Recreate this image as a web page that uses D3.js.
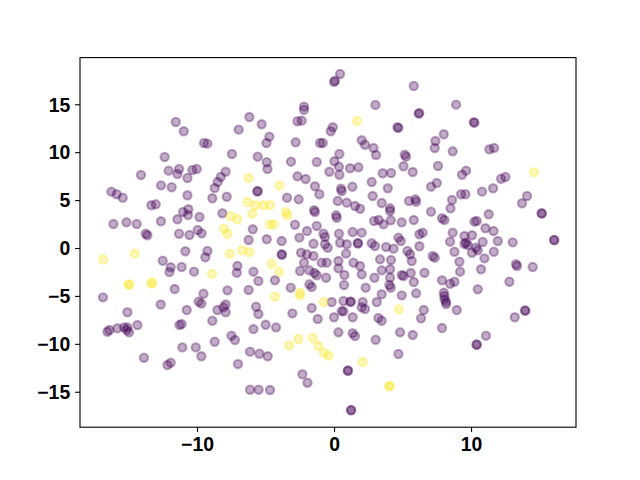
<!DOCTYPE html>
<html>
<head>
<meta charset="utf-8">
<script src="https://cdn.jsdelivr.net/npm/d3@7"></script>
<style>
  body { margin: 0; background: #fff; }
  svg { display: block; }
  .tick text { font-family: "Liberation Sans", Arial, sans-serif; font-weight: bold; }
</style>
</head>
<body>
<svg id="chart" width="640" height="480"></svg>
<script>
// ---- data ----
const xTicks = [-10, 0, 10];
const yTicks = [-15, -10, -5, 0, 5, 10, 15];
const xDomain = [-18.54, 17.66];
const yDomain = [-18.7, 19.87];

const purplePoints = [
[-11.55,13.15],[-10.97,12.18],[-9.49,10.96],[-9.24,10.89],[-12.36,9.50],[-7.45,9.81],[-6.96,12.35],[-6.18,13.67],
[-14.09,7.62],[-12.07,8.07],[-11.31,8.25],[-11.43,7.72],[-10.34,8.14],[-10.02,8.25],[-10.70,7.31],[-7.91,7.96],
[-8.27,7.41],[-8.49,6.89],[-8.71,6.26],[0.44,18.16],[0.07,17.46],[0.00,17.33],[5.82,16.91],[-5.28,12.91],
[-2.19,14.75],[-2.19,14.41],[-2.67,13.23],[-2.36,13.29],[3.02,14.93],[4.63,12.60],[4.70,12.53],[-0.09,12.60],
[-0.24,12.18],[-4.72,11.62],[-4.93,10.96],[-2.80,11.03],[-1.02,10.96],[-0.82,10.96],[2.02,11.24],[2.26,10.78],
[2.88,10.44],[3.07,9.71],[-5.57,9.53],[-4.91,8.95],[-4.86,8.25],[-3.14,9.01],[-1.26,8.98],[0.39,9.81],
[0.03,9.05],[0.36,8.49],[-0.34,7.96],[0.39,7.65],[1.17,8.32],[1.78,8.42],[5.16,9.74],[5.26,9.53],
[5.07,8.53],[5.74,7.93],[3.55,7.80],[4.16,7.83],[-2.67,7.48],[-2.07,7.20],[2.75,6.89],[6.18,14.02],
[6.22,14.08],[8.91,14.96],[10.20,13.12],[10.25,13.08],[8.01,11.87],[7.40,11.17],[7.35,10.44],[8.66,10.09],
[11.34,10.30],[11.68,10.44],[7.59,8.56],[9.64,8.07],[9.34,7.65],[12.19,7.23],[12.51,7.41],[7.50,6.78],
[-16.25,5.88],[-15.86,5.61],[-15.42,5.25],[-12.63,6.54],[-11.85,6.34],[-10.70,5.50],[-13.33,4.46],[-13.01,4.56],
[-8.88,5.19],[-7.83,5.35],[-16.10,2.51],[-15.15,2.68],[-14.40,2.51],[-12.63,2.79],[-13.74,1.49],[-13.62,1.33],
[-11.43,3.00],[-11.02,3.76],[-10.63,4.04],[-10.66,3.44],[-9.82,3.24],[-8.15,3.62],[-11.31,1.49],[-10.55,1.36],
[-9.95,1.88],[-9.66,1.53],[-10.85,-0.34],[-9.24,-0.31],[-9.39,-0.97],[-12.50,-1.33],[-11.92,-2.01],[-12.01,-2.51],
[-11.12,-1.98],[-10.22,-2.47],[-7.05,-1.88],[-7.10,-2.58],[-11.63,-4.28],[-9.53,-4.77],[-7.78,-4.42],[-16.86,-5.15],
[-12.65,-5.90],[-9.88,-5.60],[-9.68,-5.80],[-6.23,0.84],[-6.23,-4.38],[-5.57,5.95],[-5.60,5.90],[-3.43,5.25],
[-2.58,5.08],[-1.39,6.44],[-1.07,5.61],[0.51,6.19],[0.56,5.95],[1.34,6.40],[3.92,6.23],[2.82,5.43],
[0.27,4.91],[0.93,4.73],[1.53,4.38],[1.90,4.10],[3.48,4.70],[4.09,4.14],[4.09,3.86],[5.47,4.91],
[-1.46,3.94],[-1.39,3.76],[0.15,3.41],[0.20,3.16],[2.92,2.82],[3.26,2.92],[3.61,2.47],[4.14,2.89],
[4.94,2.68],[-2.85,2.43],[-1.26,2.30],[-5.93,1.95],[-1.97,1.77],[-0.77,1.49],[-0.66,1.15],[0.36,1.49],
[1.36,1.67],[2.02,1.60],[4.70,1.08],[4.87,0.73],[-4.91,0.91],[-3.82,0.73],[-2.53,1.08],[-1.50,0.45],
[-0.66,0.39],[-0.46,0.03],[0.44,0.55],[0.93,0.39],[0.88,-0.59],[1.73,0.49],[1.75,0.50],[2.75,0.49],
[2.99,0.21],[3.80,0.10],[4.34,-0.07],[5.36,-0.31],[5.55,-0.66],[-3.82,-0.66],[-3.80,-0.70],[-2.41,-0.49],
[-1.99,-0.66],[-1.50,-0.84],[-0.90,-1.53],[-0.53,-1.53],[0.32,-1.36],[0.32,-2.12],[1.42,-1.53],[1.90,-1.88],
[3.36,-1.18],[4.16,-1.25],[5.67,-1.36],[-2.19,-1.53],[-5.88,-2.47],[-2.48,-2.40],[-1.80,-2.33],[-1.43,-2.61],
[-1.26,-2.85],[-0.58,-3.10],[0.76,-2.82],[2.02,-2.75],[3.48,-2.33],[4.09,-2.22],[4.09,-3.10],[4.94,-2.82],
[5.07,-2.92],[5.60,-2.61],[-5.52,-3.44],[-4.31,-3.37],[-3.16,-4.14],[-1.80,-3.79],[-1.63,-4.07],[0.73,-3.86],
[2.31,-4.14],[2.95,-3.10],[4.04,-3.86],[4.14,-4.14],[3.48,-4.83],[4.94,-4.94],[3.12,-5.64],[-0.17,-5.64],
[0.69,-5.53],[1.22,-5.61],[1.20,-5.60],[2.09,-5.64],[5.82,2.92],[5.82,-3.55],[-5.69,-6.13],[-5.52,-6.89],
[-3.04,-6.82],[-1.63,-6.26],[0.69,-6.61],[0.56,-6.58],[-1.19,-7.41],[0.00,-7.23],[1.36,-7.23],[2.02,-6.19],
[2.26,-6.37],[3.24,-7.31],[3.48,-7.59],[-5.88,-8.46],[-4.99,-8.01],[-4.23,-8.28],[0.32,-8.80],[1.36,-8.90],
[1.53,-9.19],[3.04,-9.57],[4.82,-8.80],[5.74,-9.08],[-6.13,-10.82],[-5.45,-11.03],[-4.84,-11.30],[4.70,-11.06],
[-2.31,-13.18],[-1.94,-14.06],[1.00,-12.81],[1.02,-12.78],[-6.13,-14.79],[-5.50,-14.79],[-4.67,-14.82],[1.24,-16.94],
[1.25,-16.90],[7.08,6.40],[5.94,5.08],[5.99,4.83],[9.27,5.61],[9.59,5.61],[10.80,5.88],[11.61,6.23],
[8.61,5.01],[8.50,4.14],[7.08,3.79],[7.88,3.10],[8.06,2.92],[10.25,2.75],[10.42,2.82],[11.29,3.52],
[14.09,5.43],[13.72,4.67],[15.14,3.62],[15.18,3.60],[6.23,1.43],[6.47,1.60],[8.66,1.60],[9.52,1.25],
[10.07,1.33],[11.05,2.06],[11.64,1.77],[8.47,0.66],[9.64,0.55],[9.76,0.31],[9.52,0.45],[10.85,0.63],
[11.95,0.73],[13.04,0.59],[16.06,0.84],[16.08,0.82],[6.23,0.18],[10.36,0.03],[10.49,-0.24],[10.07,-0.49],
[8.79,-0.39],[11.66,-0.39],[7.20,-0.84],[7.35,-1.01],[10.98,-1.08],[9.15,-1.43],[13.28,-1.70],[13.36,-1.88],
[14.50,-1.98],[6.60,-2.58],[9.20,-2.47],[10.73,-2.22],[7.88,-3.37],[8.47,-3.73],[8.79,-3.52],[12.80,-3.52],
[10.49,-4.31],[5.99,-4.73],[8.01,-4.67],[8.06,-5.01],[8.06,-5.36],[8.18,-5.61],[8.18,-5.85],[6.55,-6.47],
[6.35,-7.34],[8.96,-6.47],[7.88,-8.35],[13.94,-6.54],[13.96,-6.52],[13.19,-7.23],[11.09,-9.15],[10.42,-10.09],
[10.40,-10.07],[-15.08,-6.71],[-10.75,-6.47],[-8.51,-6.47],[-8.07,-6.19],[-7.91,-6.71],[-7.91,-5.90],[-16.54,-8.74],
[-16.39,-8.56],[-15.81,-8.38],[-15.33,-8.28],[-15.08,-8.28],[-14.96,-8.80],[-15.13,-8.56],[-14.35,-8.04],[-11.28,-8.04],
[-11.12,-7.93],[-8.88,-7.59],[-7.49,-9.15],[-7.23,-9.60],[-8.71,-9.78],[-11.07,-10.37],[-10.09,-10.37],[-9.68,-11.30],
[-13.87,-11.45],[-12.16,-12.21],[-11.92,-11.97],[-7.01,-12.11]
];

const yellowPoints = [
[-6.23,7.31],[1.68,13.26],[14.58,7.90],[-6.30,4.80],[-7.54,3.31],[-7.05,3.00],[-8.03,2.01],[-7.78,1.49],
[-16.86,-1.18],[-14.55,-0.59],[-7.61,-0.59],[-6.72,-0.24],[-8.91,-2.68],[-14.99,-3.79],[-14.95,-3.85],[-13.31,-3.73],
[-13.30,-3.60],[-3.99,6.54],[-5.74,4.46],[-5.15,4.46],[-4.67,4.49],[-5.96,3.58],[-3.53,3.76],[-3.40,3.41],
[-4.67,2.47],[-4.42,2.47],[-6.18,-0.42],[-4.55,-1.64],[-4.01,-2.47],[-2.48,-4.67],[-2.48,-4.94],[-4.31,-5.08],
[-0.75,-5.64],[4.74,-6.40],[-3.28,-10.16],[-2.60,-9.50],[-1.55,-9.39],[-1.14,-10.23],[-0.73,-10.93],[-0.41,-11.24],
[2.09,-11.90],[4.04,-14.41],[4.05,-14.40]
];

const seriesColors = { purple: "#440154", yellow: "#fde725" };

// ---- chart ----
const W = 640, H = 480;
const margin = { left: 80, right: 64, top: 57.6, bottom: 52.8 };
const svg = d3.select("#chart");

const x = d3.scaleLinear().domain(xDomain).range([margin.left, W - margin.right]);
const y = d3.scaleLinear().domain(yDomain).range([H - margin.bottom, margin.top]);

const data = purplePoints.map(p => ({ x: p[0], y: p[1], c: "purple" }))
  .concat(yellowPoints.map(p => ({ x: p[0], y: p[1], c: "yellow" })));

svg.append("g")
  .selectAll("circle")
  .data(data)
  .join("circle")
  .attr("cx", d => x(d.x))
  .attr("cy", d => y(d.y))
  .attr("r", 4.17)
  .attr("fill", d => seriesColors[d.c])
  .attr("fill-opacity", 0.33)
  .attr("stroke", d => seriesColors[d.c])
  .attr("stroke-opacity", 0.33)
  .attr("stroke-width", 2.08);

const fmt = d3.format("d");

const xAxis = svg.append("g")
  .attr("transform", `translate(0,${H - margin.bottom})`)
  .call(d3.axisBottom(x).tickValues(xTicks).tickFormat(d => fmt(d)).tickSize(4.9).tickPadding(4.9));
const yAxis = svg.append("g")
  .attr("transform", `translate(${margin.left},0)`)
  .call(d3.axisLeft(y).tickValues(yTicks).tickFormat(d => fmt(d)).tickSize(4.9).tickPadding(4.9));

[xAxis, yAxis].forEach(g => {
  g.select(".domain").remove();
  g.selectAll(".tick line").attr("stroke", "#000").attr("stroke-width", 1.1);
  g.selectAll(".tick text").attr("fill", "#000").style("font-size", "19.4px");
});
yAxis.selectAll(".tick text").attr("dy", "0.35em");

svg.append("rect")
  .attr("x", margin.left)
  .attr("y", margin.top)
  .attr("width", W - margin.left - margin.right)
  .attr("height", H - margin.top - margin.bottom)
  .attr("fill", "none")
  .attr("stroke", "#000")
  .attr("stroke-width", 1.1);
</script>
</body>
</html>
